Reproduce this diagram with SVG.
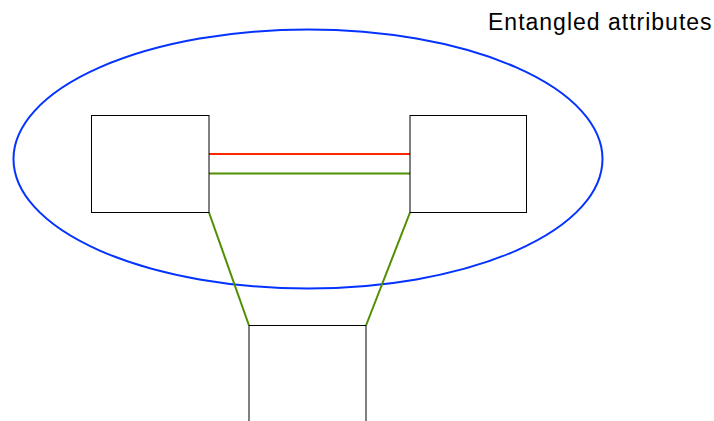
<svg xmlns="http://www.w3.org/2000/svg" width="714" height="421" viewBox="0 0 714 421">
<style>
.node{fill:#fff;stroke:#000;stroke-width:1}
.lbl{font-family:"Liberation Sans",Arial,sans-serif;font-size:23px;letter-spacing:1px;fill:#000}
</style>
<rect width="714" height="421" fill="#fff"/>
<g id="ellipse"><ellipse cx="308" cy="159" rx="294.5" ry="129.5" fill="none" stroke="#0433ff" stroke-width="2"/></g>
<g id="connectors" fill="none" stroke-width="2">
<line x1="209" y1="154" x2="410" y2="154" stroke="#ff2600"/>
<line x1="209" y1="173.5" x2="410" y2="173.5" stroke="#4f8f00"/>
<line x1="209" y1="212.5" x2="249" y2="325.5" stroke="#4f8f00"/>
<line x1="410" y1="212.5" x2="366" y2="325.5" stroke="#4f8f00"/>
</g>
<g id="node1"><rect class="node" x="91.5" y="115.5" width="117.5" height="97"/></g>
<g id="node2"><rect class="node" x="410" y="115.5" width="116.5" height="97"/></g>
<g id="node3"><rect class="node" x="249" y="325.5" width="117" height="110"/></g>
<g id="label"><text class="lbl" x="488" y="30">Entangled attributes</text></g>
</svg>
